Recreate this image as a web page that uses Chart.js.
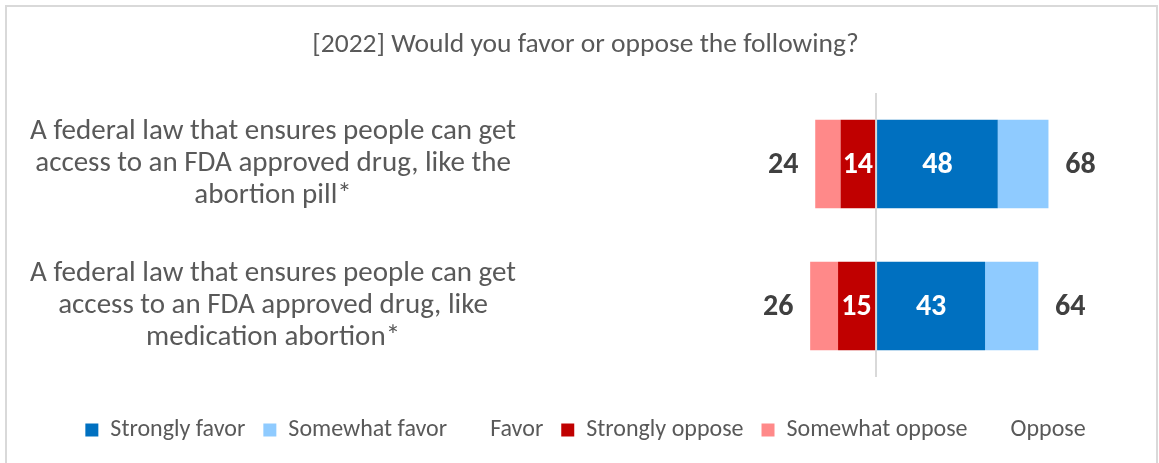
<!DOCTYPE html>
<html>
<head>
<meta charset="utf-8">
<script src="https://cdn.jsdelivr.net/npm/chart.js@4.4.1/dist/chart.umd.min.js"></script>
<style>
    html, body { margin: 0; padding: 0; background: #ffffff; }
    #wrap { position: relative; width: 1159px; height: 463px; }
</style>
</head>
<body>
<div id="wrap"><canvas id="favorChart" width="1159" height="463"></canvas></div>
<script>
// Survey results - diverging stacked bars (favor right, oppose left)
const categories = [
    ['A federal law that ensures people can get', 'access to an FDA approved drug, like the', 'abortion pill*'],
    ['A federal law that ensures people can get', 'access to an FDA approved drug, like', 'medication abortion*']
];
const stronglyFavor = [48, 43];
const somewhatFavor = [20, 21];
const stronglyOppose = [14, 15];
const somewhatOppose = [10, 11];
const favorTotal = [68, 64];
const opposeTotal = [24, 26];
const legendNames = ['Strongly favor', 'Somewhat favor', 'Favor', 'Strongly oppose', 'Somewhat oppose', 'Oppose'];

const FONT = 'Calibri, Carlito, Lato, sans-serif';
const COLORS = {
    strongFavor: '#0070C0',
    someFavor: '#8FCBFF',
    strongOppose: '#C00000',
    someOppose: '#FF8989'
};

// Frame around the whole chart
const framePlugin = {
    id: 'frame',
    beforeDraw(chart) {
        const c = chart.ctx;
        c.save();
        c.fillStyle = '#ffffff';
        c.fillRect(0, 0, chart.width, chart.height);
        c.strokeStyle = '#d9d9d9';
        c.lineWidth = 2;
        c.strokeRect(6, 6, chart.width - 8, chart.height + 10);
        c.restore();
    }
};

// Value labels: strongly values inside bars, net totals beside bar ends
const valueLabels = {
    id: 'valueLabels',
    afterDatasetsDraw(chart) {
        const c = chart.ctx;
        const xs = chart.scales.x;
        c.save();
        c.font = 'bold 30px ' + FONT;
        c.textAlign = 'center';
        c.textBaseline = 'middle';

        [0, 2].forEach(dsIndex => {
            const values = chart.data.datasets[dsIndex].data;
            chart.getDatasetMeta(dsIndex).data.forEach((bar, i) => {
                c.fillStyle = '#ffffff';
                c.fillText(String(Math.abs(values[i])), (bar.x + bar.base) / 2, bar.y + 1);
            });
        });

        chart.getDatasetMeta(0).data.forEach((bar, i) => {
            c.fillStyle = '#404040';
            c.fillText(String(favorTotal[i]), xs.getPixelForValue(favorTotal[i]) + 32, bar.y + 1);
            c.fillText(String(opposeTotal[i]), xs.getPixelForValue(-opposeTotal[i]) - 32, bar.y + 1);
        });
        c.restore();
    }
};

const legendFill = [COLORS.strongFavor, COLORS.someFavor, 'rgba(0,0,0,0)', COLORS.strongOppose, COLORS.someOppose, 'rgba(0,0,0,0)'];

const data = {
    labels: categories,
    datasets: [
        { label: 'Strongly favor', data: stronglyFavor, backgroundColor: COLORS.strongFavor },
        { label: 'Somewhat favor', data: somewhatFavor, backgroundColor: COLORS.someFavor },
        { label: 'Strongly oppose', data: stronglyOppose.map(v => -v), backgroundColor: COLORS.strongOppose },
        { label: 'Somewhat oppose', data: somewhatOppose.map(v => -v), backgroundColor: COLORS.someOppose }
    ]
};

const config = {
    type: 'bar',
    data: data,
    options: {
        indexAxis: 'y',
        responsive: false,
        animation: false,
        datasets: {
            bar: {
                categoryPercentage: 1,
                barPercentage: 0.622,
                borderWidth: 0
            }
        },
        layout: {
            padding: { left: 12, right: 0, top: 0, bottom: 11 }
        },
        plugins: {
            title: {
                display: true,
                text: '[2022] Would you favor or oppose the following?',
                color: '#595959',
                font: { family: FONT, size: 27.5, weight: 'normal' },
                padding: { top: 28.5, bottom: 31.5 }
            },
            legend: {
                display: true,
                position: 'bottom',
                labels: {
                    color: '#595959',
                    font: { family: FONT, size: 24 },
                    boxWidth: 13,
                    boxHeight: 13,
                    padding: 18,
                    generateLabels: () => legendNames.map((name, i) => ({
                        text: name,
                        fillStyle: legendFill[i],
                        strokeStyle: 'rgba(0,0,0,0)',
                        lineWidth: 0,
                        fontColor: '#595959',
                        datasetIndex: i
                    }))
                }
            },
            tooltip: { enabled: false }
        },
        scales: {
            x: {
                stacked: true,
                min: -137.3,
                max: 111.6,
                border: { display: false },
                afterFit: scale => { scale.height = 23; },
                // only the zero line is drawn
                afterBuildTicks: scale => { scale.ticks = [{ value: 0 }]; },
                grid: {
                    drawTicks: false,
                    lineWidth: 2,
                    color: '#d9d9d9'
                },
                ticks: { display: false }
            },
            y: {
                stacked: true,
                border: { display: false },
                grid: { display: false, drawTicks: false },
                afterFit: scale => { scale.width = 516; },
                ticks: {
                    crossAlign: 'center',
                    padding: 12,
                    color: '#595959',
                    font: { family: FONT, size: 29, lineHeight: 1.1 }
                }
            }
        }
    },
    plugins: [framePlugin, valueLabels]
};

new Chart(document.getElementById('favorChart'), config);
</script>
</body>
</html>
